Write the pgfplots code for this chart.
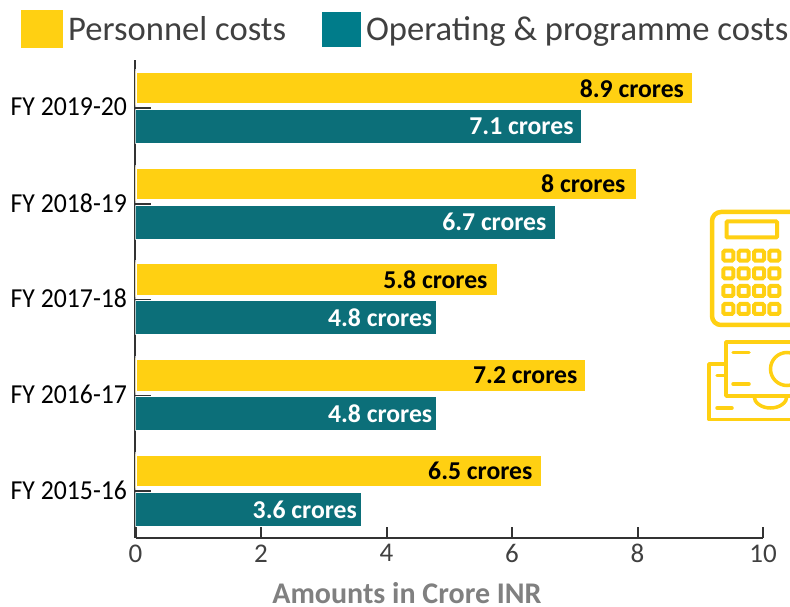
\documentclass[border=0pt]{standalone}
\usepackage{pgfplots}
\usepackage{pgfplotstable}
\usepackage{fontspec}
\setmainfont{Carlito}
\pgfplotsset{compat=1.18}
\definecolor{gold}{HTML}{FFD012}
\definecolor{barteal}{HTML}{0C6F79}
\definecolor{keyteal}{HTML}{007C8A}
\definecolor{axisdark}{HTML}{333333}

% year position, amount in crore, gap between label and bar end
\pgfplotstableread{
pos val pad
4 8.9 8
3 8.0 10
2 5.8 10
1 7.2 8
0 6.5 9
}\personnel
\pgfplotstableread{
pos val pad
4 7.1 7
3 6.7 9
2 4.8 4
1 4.8 4
0 3.6 4
}\operating

\newcommand{\px}[1]{\fontsize{#1pt}{#1pt}\selectfont}
\newcommand{\fy}[1]{\scalebox{1.05}[1.12]{#1}}

\pgfplotsset{
  frame/.style={
    at={(135.5pt,68pt)}, anchor=south west,
    scale only axis, width=627.5pt, height=478pt,
    xmin=0, xmax=10, ymin=-0.486, ymax=4.5065,
    x axis line style={-, color=axisdark, line width=2pt},
    y axis line style={-, color=axisdark, line width=2pt},
    tick style={color=axisdark, line width=2pt},
    /pgf/number format/assume math mode=true,
  },
}

\begin{document}
\begin{tikzpicture}[x=1pt,y=1pt]
\useasboundingbox (0,0) rectangle (790,606);
% Value scale along the bottom
\begin{axis}[
  frame,
  axis x line*=bottom, axis y line=none,
  tick align=inside,
  xtick={0,2,...,10}, ytick=\empty,
  major tick length=11pt,
  xticklabel style={font=\px{27}, text=black!75, yshift=-3pt},
  xlabel={Amounts in Crore INR},
  xlabel style={at={(axis description cs:0.4327,-0.115)}, anchor=center,
    font=\px{30}\bfseries, text=black!50},
]
\end{axis}
% Year axis and the bars
\begin{axis}[
  frame,
  axis x line=none, axis y line*=left,
  xtick=\empty, ytick={0,1,2,3,4},
  major tick length=16pt,
  yticklabels={\fy{FY 2015-16},\fy{FY 2016-17},\fy{FY 2017-18},\fy{FY 2018-19},\fy{FY 2019-20}},
  yticklabel style={font=\px{24.5}, text=black, xshift=-5pt, yshift=1.5pt},
  xbar,
  tick align=inside,
  nodes near coords={\pgfmathprintnumber{\pgfplotspointmeta} crores},
  visualization depends on={\thisrow{pad} \as \labelpad},
  legend style={at={(-114.5pt,528pt)}, anchor=north west, draw=none, fill=none,
    legend columns=2, font=\px{34.6}, text=black!75, inner sep=0pt,
    /tikz/every even column/.append style={column sep=34pt}},
  legend cell align=left,
]
\addplot[
  fill=gold, draw=white, line width=4pt, bar width=34.5pt, bar shift=20.25pt,
  every node near coord/.style={anchor=east, xshift=-\labelpad pt, yshift=20.25pt,
    text=black, font=\px{25.7}\bfseries, inner sep=0pt},
  legend image code/.code={\fill[gold] (0pt,-17pt) rectangle (38pt,17pt);},
] table[x=val,y=pos] {\personnel};
\addlegendentry{\hspace*{3pt}Personnel costs}
\addplot[
  fill=barteal, draw=white, line width=1pt, bar width=34pt, bar shift=-18pt,
  every node near coord/.style={anchor=east, xshift=-\labelpad pt, yshift=-18pt,
    text=white, font=\px{25.7}\bfseries, inner sep=0pt},
  legend image code/.code={\fill[keyteal] (0pt,-17pt) rectangle (38pt,17pt);},
] table[x=val,y=pos] {\operating};
\addlegendentry{\hspace*{3pt}Operating \& programme costs}
\end{axis}

% Calculator and banknotes ornament, running off the right edge
\begin{scope}[shift={(0,606)}, y=-1pt, x=1pt]
  \clip (690,190) rectangle (790,430);
  \draw[gold, line width=4.5pt, rounded corners=9pt] (712,212) rectangle (802,325);
  \draw[gold, line width=4pt, rounded corners=1pt] (726.5,221.5) rectangle (777,237.5);
  \foreach \cx in {728.3,743.7,759,774.3}
    \foreach \cy in {255.7,273.3,291,309}
      \draw[gold, line width=4pt, rounded corners=1.5pt]
        (\cx-5,\cy-5) rectangle (\cx+5,\cy+5);
  % rear note
  \draw[gold, line width=3.5pt, line cap=round, line join=round]
    (725,364) -- (709,364) -- (709,419.5) -- (795,419.5);
  \draw[gold, line width=3.5pt, line cap=round] (717,375.7) -- (724,375.7);
  \draw[gold, line width=3.5pt, line cap=round] (717,408) -- (732,408);
  \draw[gold, line width=3.5pt] (754,396) arc[start angle=180, end angle=0, x radius=16.5, y radius=12];
  % front note
  \draw[gold, line width=3.5pt, line join=round] (795,342) -- (726,342) -- (726,396) -- (795,396);
  \draw[gold, line width=3.5pt, line cap=round] (733,352.7) -- (749,352.7);
  \draw[gold, line width=3.5pt, line cap=round] (733,384) -- (749,384);
  \draw[gold, line width=3.5pt] (787,369) circle (16.5);
\end{scope}
\end{tikzpicture}
\end{document}
